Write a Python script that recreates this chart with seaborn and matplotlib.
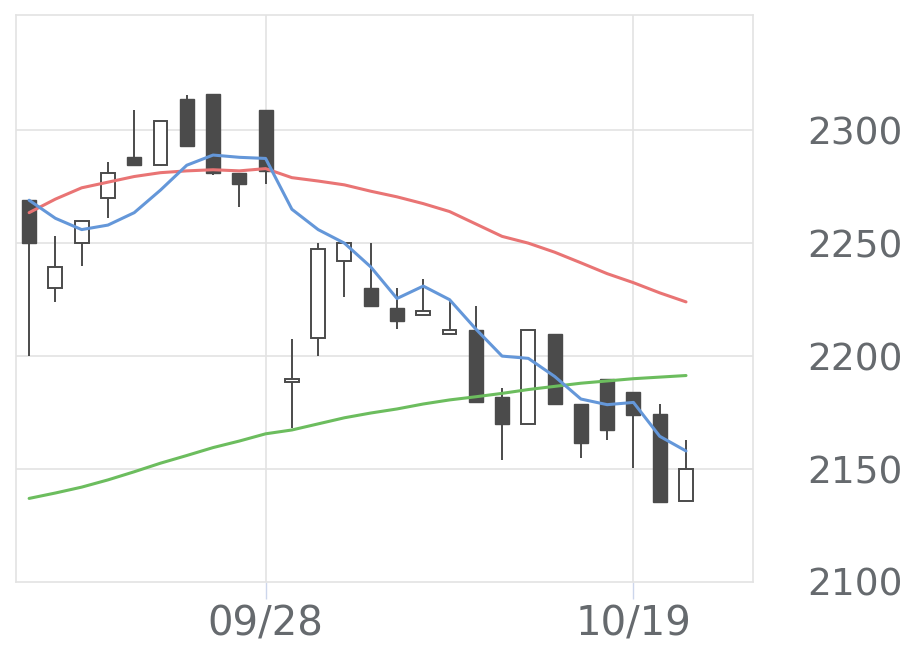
import numpy as np
import pandas as pd
import matplotlib
matplotlib.use("Agg")
import matplotlib.pyplot as plt
import seaborn as sns

# --- data ---
opens  = [2269, 2230, 2250, 2270, 2288, 2284.5, 2314, 2316, 2281, 2309,
          2188.5, 2208, 2242, 2230, 2221.5, 2218, 2210, 2211.5, 2182, 2170,
          2210, 2179, 2190, 2184, 2174.5, 2136]
closes = [2250, 2239.5, 2260, 2281, 2284.5, 2304, 2293, 2281, 2276, 2282,
          2190, 2247.5, 2250, 2222, 2215.5, 2220, 2211.6, 2179.5, 2170, 2211.5,
          2179, 2161.5, 2167.5, 2174, 2135.5, 2150]
highs  = [2269, 2253, 2260, 2286, 2309, 2304, 2315.5, 2316, 2281, 2309,
          2207.5, 2250, 2250, 2250, 2230, 2234, 2225, 2222, 2186, 2211.5,
          2210, 2179, 2190, 2184, 2179, 2163]
lows   = [2200, 2224, 2240, 2261, 2284.5, 2284, 2293, 2280, 2266, 2276,
          2168, 2200, 2226, 2222, 2212, 2218, 2210, 2179.5, 2154, 2170,
          2179, 2155, 2163, 2150.5, 2135, 2136]
ma_short = [2269, 2261, 2256, 2258, 2263.5, 2273.5, 2284.5, 2289, 2288, 2287.5,
            2265, 2256, 2250, 2239.5, 2225.5, 2231, 2225, 2212, 2200, 2199,
            2191, 2181, 2178.5, 2179.5, 2164.5, 2158]
ma_mid = [2263.5, 2269.5, 2274.5, 2277, 2279.5, 2281.2, 2282, 2282.5, 2282, 2283,
          2279, 2277.5, 2275.8, 2273, 2270.5, 2267.5, 2264, 2258.5, 2253, 2250,
          2246, 2241.3, 2236.5, 2232.5, 2228, 2224]
ma_long = [2137, 2139.4, 2142, 2145.2, 2148.8, 2152.6, 2156, 2159.5, 2162.4, 2165.6,
           2167.3, 2170, 2172.7, 2174.8, 2176.6, 2178.8, 2180.6, 2182, 2183.5, 2185.2,
           2186.6, 2188, 2189, 2190, 2190.7, 2191.4]
tick_idx = [9, 23]
tick_labels = ["09/28", "10/19"]
y_ticks = [2100, 2150, 2200, 2250, 2300]

n = len(opens)
x = np.arange(n)
df = pd.DataFrame({"x": x, "open": opens, "close": closes, "high": highs,
                   "low": lows, "ma5": ma_short, "ma25": ma_mid, "ma75": ma_long})

sns.set_theme(style="white")
plt.rcParams["font.family"] = ["DejaVu Sans"]

fig = plt.figure(figsize=(9.2, 6.69), dpi=100)
ax = fig.add_axes([16 / 920, 1 - 582 / 669, (753 - 16) / 920, (582 - 15) / 669])

grid_c = "#e3e3e3"
dark = "#4b4b4b"

# gridlines
for yv in y_ticks[1:]:
    ax.axhline(yv, color=grid_c, lw=1.2, zorder=0)
for ti in tick_idx:
    ax.axvline(ti, color=grid_c, lw=1.2, zorder=0)

# candles
up = df["close"] >= df["open"]
body_w = 0.53
ax.vlines(df["x"], df["low"], df["high"], color=dark, lw=1.4, zorder=2)
bottoms = np.minimum(df["open"], df["close"])
heights = np.abs(df["close"] - df["open"])
ax.bar(df["x"][up], heights[up], bottom=bottoms[up], width=body_w,
       color="white", edgecolor=dark, linewidth=1.4, zorder=3)
ax.bar(df["x"][~up], heights[~up], bottom=bottoms[~up], width=body_w,
       color=dark, edgecolor=dark, linewidth=1.0, zorder=3)

# moving averages
sns.lineplot(data=df, x="x", y="ma75", color="#6cbd5e", lw=2.2, ax=ax, zorder=4)
sns.lineplot(data=df, x="x", y="ma25", color="#e97474", lw=2.2, ax=ax, zorder=4)
sns.lineplot(data=df, x="x", y="ma5", color="#6497d9", lw=2.2, ax=ax, zorder=5)

ax.set_xlim(-0.5, 27.55)
ax.set_ylim(2100, 2351)
ax.set_xlabel("")
ax.set_ylabel("")

ax.set_xticks(tick_idx)
ax.set_xticklabels(tick_labels)
ax.set_yticks(y_ticks)
ax.set_yticklabels([str(v) for v in y_ticks])
ax.yaxis.tick_right()
ax.tick_params(axis="y", length=0, pad=39, labelsize=27, labelcolor="#666a6e")
ax.tick_params(axis="x", length=12, width=1, color="#ccd6eb", pad=4,
               labelsize=29, labelcolor="#666a6e", bottom=True)

for s in ax.spines.values():
    s.set_color(grid_c)
    s.set_linewidth(1.2)

fig.savefig("out.png", dpi=100)
